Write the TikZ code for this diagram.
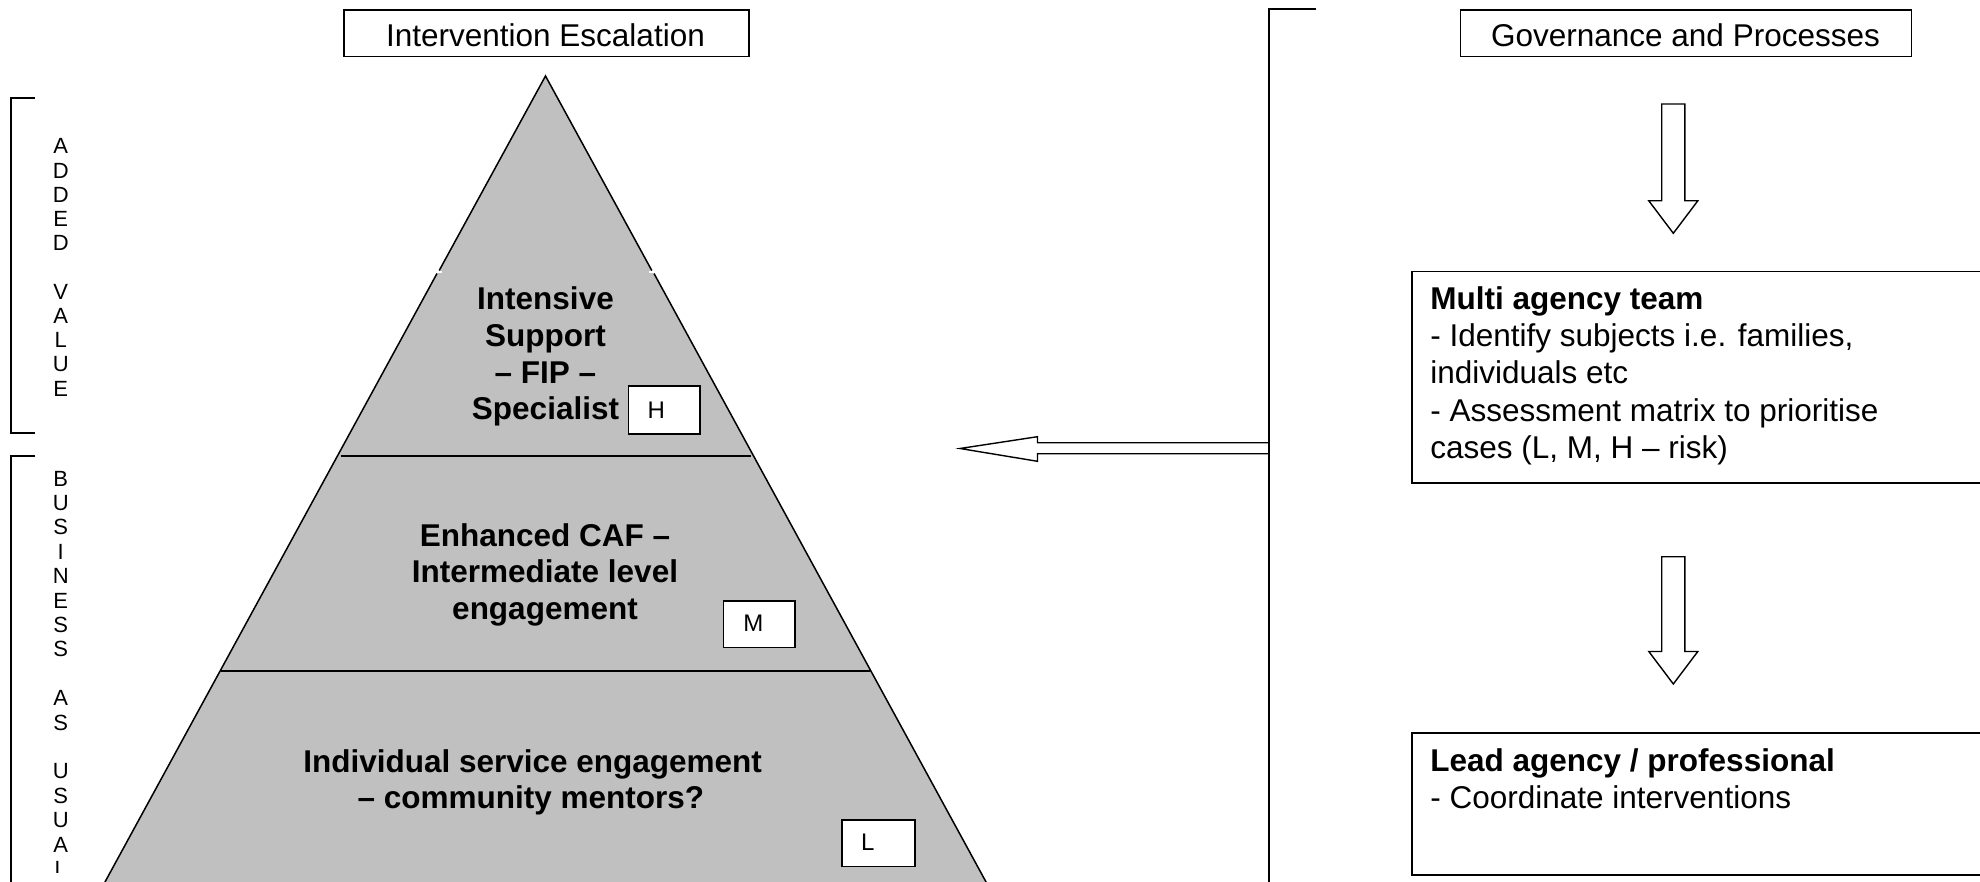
\documentclass[tikz,border=0pt]{standalone}
\usepackage{fontspec}
\setmainfont{Liberation Sans}
\usetikzlibrary{calc}
\definecolor{pyrgray}{HTML}{C0C0C0}
\newcommand\blockdown[2]{%
  \draw[hollowarrow] ($(#1)+(-11.6,0)$) -- ($(#1)+(11.6,0)$) -- ($(#2)+(11.6,-32.5)$) -- ($(#2)+(24.5,-32.5)$) -- (#2) -- ($(#2)+(-24.5,-32.5)$) -- ($(#2)+(-11.6,-32.5)$) -- cycle;}
\begin{document}
\begin{tikzpicture}[x=1pt,y=-1pt,
  frame/.style={draw, line width=1.6pt, inner sep=0pt},
  ttl/.style={font=\fontsize{31.5}{36.5}\selectfont, anchor=base, inner sep=0pt},
  lvl/.style={font=\fontsize{31.5}{36.5}\selectfont\bfseries, anchor=base, inner sep=0pt},
  boxt/.style={font=\fontsize{31.5}{37.2}\selectfont, anchor=base west, inner sep=0pt},
  boxh/.style={font=\fontsize{31.5}{37.2}\selectfont\bfseries, anchor=base west, inner sep=0pt},
  tag/.style={draw, fill=white, line width=1.5pt, inner sep=0pt, anchor=north west},
  tagt/.style={font=\fontsize{24}{28}\selectfont, anchor=base west, inner sep=0pt},
  vletter/.style={font=\fontsize{22}{24.4}\selectfont, anchor=base, inner sep=0pt},
  bracket/.style={draw, line width=2pt},
  edge/.style={line width=1.5pt},
  divider/.style={line width=2.3pt},
  hollowarrow/.style={draw, fill=white, line width=1.4pt, line join=miter},
]
\useasboundingbox (0,0) rectangle (1980,882);
\clip (0,0) rectangle (1980,882);

% ---------- pyramid ----------
\coordinate (apex) at (545.5,76);
\coordinate (bl) at (100.6,890);
\coordinate (br) at (990.4,890);
\fill[pyrgray] (apex) -- (bl) -- (br) -- cycle;
\coordinate (ul) at (439.2,270.5);
\coordinate (ur) at (651.8,270.5);
\coordinate (ll) at (437.0,273.5);
\coordinate (lr) at (654.0,273.5);
\draw[edge] (ul) -- (apex) -- (ur);
\draw[edge] (ll) -- (bl);
\draw[edge] (lr) -- (br);
\draw[white, line width=1.5pt] (434,272) -- (442,272);
\draw[white, line width=1.5pt] (649,272) -- (657,272);
\coordinate (d1l) at (340.5,455.7);
\coordinate (d1r) at (750.5,455.7);
\coordinate (d2l) at (220.8,670.7);
\coordinate (d2r) at (870.2,670.7);
\draw[divider] (d1l) -- (d1r);
\draw[divider] (d2l) -- (d2r);

% pyramid texts
\node[lvl] (p1a) at (545.5,310) {Intensive};
\node[lvl] (p1b) at (545.5,346.5) {Support};
\node[lvl] (p1c) at (545.5,383) {-- FIP --};
\node[lvl] (p1d) at (545.5,419.5) {Specialist};
\node[lvl] (p2a) at (545,546) {Enhanced CAF --};
\node[lvl] (p2b) at (545,582.5) {Intermediate level};
\node[lvl] (p2c) at (545,619) {engagement};
\node[lvl] (p3a) at (532.6,772) {Individual service engagement};
\node[lvl] (p3b) at (530.8,808.5) {-- community mentors?};

% risk tags
\node[tag, minimum width=71.3pt, minimum height=48pt] (hbox) at (627.7,385) {};
\node[tagt] (htxt) at (647.4,418.3) {H};
\node[tag, minimum width=71.3pt, minimum height=46.7pt] (mbox) at (722.7,600) {};
\node[tagt] (mtxt) at (743.2,631.7) {M};
\node[tag, minimum width=73pt, minimum height=46.7pt] (lbox) at (841,819) {};
\node[tagt] (ltxt) at (861,850) {L};

% ---------- titles ----------
\node[frame, anchor=north west, minimum width=405.2pt, minimum height=46.7pt] (iebox) at (342.9,9) {};
\node[ttl] (ietxt) at (545.5,46.7) {Intervention Escalation};
\node[frame, anchor=north west, minimum width=451.3pt, minimum height=46.7pt] (gpbox) at (1459.5,9) {};
\node[ttl] (gptxt) at (1685.5,46.7) {Governance and Processes};

% ---------- left brackets ----------
\coordinate (av1) at (35,98);
\coordinate (av2) at (11,98);
\coordinate (av3) at (11,433);
\coordinate (av4) at (35,433);
\draw[bracket] (av1) -- (av2) -- (av3) -- (av4);
\foreach \i/\c in {0/A,1/D,2/D,3/E,4/D,6/V,7/A,8/L,9/U,10/E}
  \node[vletter] (avl\i) at (60.7,{154+24.2*\i}) {\c};

\coordinate (bu1) at (35,456);
\coordinate (bu2) at (11,456);
\coordinate (bu3) at (11,890);
\draw[bracket] (bu1) -- (bu2) -- (bu3);
\foreach \i/\c in {0/B,1/U,2/S,3/I,4/N,5/E,6/S,7/S,9/A,10/S,12/U,13/S,14/U,15/A}
  \node[vletter] (bul\i) at (60.7,{486+24.4*\i}) {\c};
\begin{scope}
  \clip (40,850) rectangle (90,872.5);
  \node[vletter] (bul16) at (60.7,876.4) {L};
\end{scope}

% ---------- right bracket and left arrow ----------
\coordinate (rb1) at (1316,9);
\coordinate (rb2) at (1269,9);
\coordinate (rb3) at (1269,890);
\coordinate (las) at (1269,448.2);
\coordinate (lat) at (960,448.5);
\draw[hollowarrow] ($(las)+(0,-5.5)$) -- ($(lat)+(77.5,-5.8)$) -- ($(lat)+(77.5,-11.8)$) -- (lat) -- ($(lat)+(77.5,12.8)$) -- ($(lat)+(77.5,5.2)$) -- ($(las)+(0,5.5)$) -- cycle;
\draw[bracket] (rb1) -- (rb2) -- (rb3);

% ---------- right column ----------
\coordinate (a1s) at (1673.3,104);
\coordinate (a1t) at (1673.3,233.3);
\blockdown{a1s}{a1t}

\node[frame, anchor=north west, minimum width=620pt, minimum height=211.6pt, line width=1.7pt] (mat) at (1411.4,270.7) {};
\node[boxh] (m1) at (1430.2,309.3) {Multi agency team};
\node[boxt] (m2) at (1430.2,346.6) {- Identify subjects i.e. families,};
\node[boxt] (m3) at (1430.2,383.9) {individuals etc};
\node[boxt] (m4) at (1430.2,421.1) {- Assessment matrix to prioritise};
\node[boxt] (m5) at (1430.2,458.4) {cases (L, M, H -- risk)};

\coordinate (a2s) at (1673.3,556.7);
\coordinate (a2t) at (1673.3,684);
\blockdown{a2s}{a2t}

\node[frame, anchor=north west, minimum width=620pt, minimum height=142pt, line width=1.7pt] (lead) at (1411.4,732.3) {};
\node[boxh] (l1) at (1430.2,771.7) {Lead agency / professional};
\node[boxt] (l2) at (1430.2,808.3) {- Coordinate interventions};
\end{tikzpicture}
\end{document}
